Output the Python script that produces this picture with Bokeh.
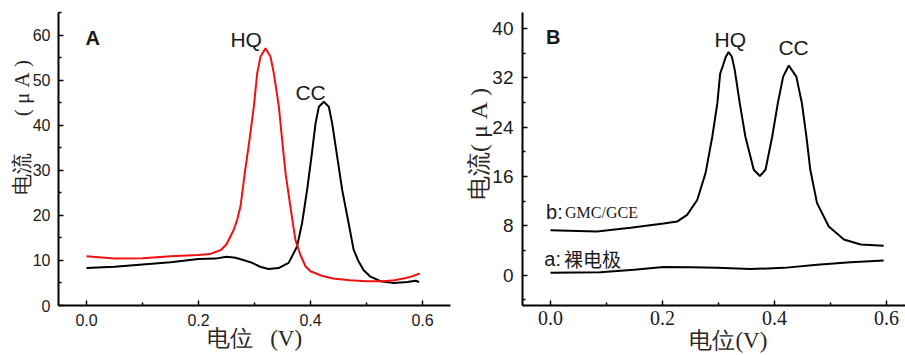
from bokeh.plotting import figure
from bokeh.layouts import row
from bokeh.models import Label, Range1d, FixedTicker, NumeralTickFormatter
from bokeh.embed import file_html
from bokeh.resources import INLINE

# ---------------- data ----------------
# Panel A: black curve (CC)
a_cc_x = [0.0, 0.05, 0.10, 0.15, 0.20, 0.23, 0.25, 0.266, 0.28, 0.296, 0.31, 0.325, 0.343,
          0.361, 0.376, 0.385, 0.394, 0.4018, 0.409, 0.4149, 0.4238, 0.4327, 0.4387, 0.4476,
          0.4565, 0.468, 0.477, 0.485, 0.495, 0.507, 0.525, 0.549, 0.573, 0.5875, 0.594]
a_cc_y = [8.3, 8.6, 9.1, 9.6, 10.3, 10.4, 10.8, 10.6, 10.1, 9.45, 8.6, 8.1, 8.3,
          9.45, 13.1, 18.3, 25.7, 33.1, 40.4, 44.1, 45.2, 44.1, 40.4, 33.1,
          25.7, 18.3, 12.4, 10.0, 7.8, 6.4, 5.4, 5.0, 5.2, 5.5, 5.2]
# Panel A: red curve (HQ)
a_hq_x = [0.0, 0.05, 0.10, 0.15, 0.20, 0.22, 0.24, 0.25, 0.263, 0.269, 0.275, 0.2827, 0.291,
          0.2988, 0.3048, 0.3107, 0.3196, 0.3286, 0.3345, 0.3435, 0.3494, 0.3554, 0.364,
          0.373, 0.382, 0.391, 0.40, 0.42, 0.44, 0.47, 0.50, 0.53, 0.55, 0.57, 0.58, 0.595]
a_hq_y = [10.9, 10.4, 10.5, 10.9, 11.2, 11.4, 12.3, 13.6, 16.8, 19.0, 22.0, 29.4, 36.7,
          44.1, 51.5, 55.2, 57.05, 55.2, 51.5, 44.1, 36.7, 29.4, 22.0,
          14.6, 11.2, 8.7, 7.6, 6.6, 6.0, 5.6, 5.4, 5.4, 5.6, 6.1, 6.4, 7.1]
# Panel B: curve b (GMC/GCE)
b_gmc_x = [0.0, 0.083, 0.143, 0.202, 0.226, 0.244, 0.262, 0.277, 0.289, 0.298, 0.303, 0.308,
           0.313, 0.318, 0.324, 0.329, 0.338, 0.348, 0.363, 0.374, 0.384, 0.396, 0.406,
           0.4155, 0.4256, 0.439, 0.449, 0.457, 0.464, 0.476, 0.497, 0.524, 0.554, 0.595]
b_gmc_y = [7.3, 7.1, 7.7, 8.4, 8.7, 9.8, 12.2, 16.6, 22.5, 27.9, 32.7, 34.0,
           35.4, 36.2, 35.4, 33.3, 27.9, 22.5, 17.1, 16.1, 17.1, 22.5, 27.9,
           32.2, 34.0, 32.2, 27.9, 22.5, 17.1, 11.7, 7.9, 5.8, 5.0, 4.8]
# Panel B: curve a (bare electrode)
b_bare_x = [0.0, 0.089, 0.149, 0.202, 0.25, 0.298, 0.357, 0.417, 0.476, 0.536, 0.595]
b_bare_y = [0.4, 0.5, 0.9, 1.35, 1.3, 1.2, 1.0, 1.2, 1.7, 2.1, 2.4]

x_major = [0.0, 0.2, 0.4, 0.6]
x_minor = [0.1, 0.3, 0.5]
a_y_major = [0, 10, 20, 30, 40, 50, 60]
a_y_minor = [5, 15, 25, 35, 45, 55, 65]
b_y_major = [0, 8, 16, 24, 32, 40]
b_y_minor = [-4, 4, 12, 20, 28, 36]

NB = "\u00a0"
IS = "\u3000"
a_x_label = "电位" + NB * 3 + "(V)"
a_y_label = IS * 3 + "电流" + IS + NB * 3 + "(" + NB + "μ" + NB + "A" + NB + ")"
b_x_label = IS + NB + "电位(V)"
b_y_label = IS + NB + "电流(" + NB + "μ" + NB + "A" + NB + ")"

TXT = "#1a1a1a"
SANS = "Liberation Sans"
SERIF = "Liberation Serif"
CJK = "Noto Sans CJK SC"


def style(p, xmaj, xmin, ymaj, ymin):
    p.outline_line_color = None
    p.xgrid.visible = False
    p.ygrid.visible = False
    p.xaxis.ticker = FixedTicker(ticks=xmaj, minor_ticks=xmin)
    p.yaxis.ticker = FixedTicker(ticks=ymaj, minor_ticks=ymin)
    p.xaxis.formatter = NumeralTickFormatter(format="0.0")
    for ax in (p.xaxis, p.yaxis):
        ax.axis_line_width = 2
        ax.axis_line_color = "black"
        ax.major_tick_in = 5
        ax.major_tick_out = 0
        ax.minor_tick_in = 3
        ax.minor_tick_out = 0
        ax.major_tick_line_width = 1.5
        ax.minor_tick_line_width = 1.5
        ax.major_tick_line_color = "black"
        ax.minor_tick_line_color = "black"
        ax.major_label_text_color = TXT
        ax.axis_label_text_font = SERIF
        ax.axis_label_text_font_style = "normal"
        ax.axis_label_text_color = "#2a2520"


def lab(p, x, y, text, size, font=SANS, bold=False):
    p.add_layout(Label(x=x, y=y, text=text, text_font=font, text_font_size=f"{size}px",
                       text_font_style="bold" if bold else "normal", text_align="left",
                       text_baseline="middle", text_color=TXT))


# ---------------- panel A ----------------
pA = figure(width=458, height=355, x_range=Range1d(-0.05, 0.65), y_range=Range1d(0, 65),
            output_backend="svg", toolbar_location=None,
            min_border_left=58, min_border_right=8, min_border_top=12, min_border_bottom=49)
style(pA, x_major, x_minor, a_y_major, a_y_minor)
pA.xaxis.major_label_text_font = SANS
pA.xaxis.major_label_text_font_size = "16px"
pA.xaxis.major_label_standoff = 8
pA.yaxis.major_label_text_font = SANS
pA.yaxis.major_label_text_font_size = "16px"
pA.yaxis.major_label_standoff = 8
pA.xaxis.axis_label = a_x_label
pA.xaxis.axis_label_text_font_size = "23px"
pA.xaxis.axis_label_standoff = -3
pA.yaxis.axis_label = a_y_label
pA.yaxis.axis_label_text_font_size = "21px"
pA.yaxis.axis_label_standoff = -4

pA.line(a_cc_x, a_cc_y, line_color="black", line_width=2)
pA.line(a_hq_x, a_hq_y, line_color="#f01010", line_width=2)

lab(pA, -0.002, 59.4, "A", 20, bold=True)
lab(pA, 0.257, 58.9, "HQ", 21)
lab(pA, 0.373, 47.2, "CC", 21)

# ---------------- panel B ----------------
pB = figure(width=447, height=355, x_range=Range1d(-0.05, 0.634), y_range=Range1d(-4.9, 42.6),
            output_backend="svg", toolbar_location=None,
            min_border_left=64, min_border_right=0, min_border_top=12, min_border_bottom=49)
style(pB, x_major, x_minor, b_y_major, b_y_minor)
pB.xaxis.major_label_text_font = SERIF
pB.xaxis.major_label_text_font_size = "20px"
pB.xaxis.major_label_standoff = 5
pB.yaxis.major_label_text_font = SANS
pB.yaxis.major_label_text_font_size = "19px"
pB.yaxis.major_label_standoff = 9
pB.xaxis.axis_label = b_x_label
pB.xaxis.axis_label_text_font_size = "23px"
pB.xaxis.axis_label_standoff = 0
pB.yaxis.axis_label = b_y_label
pB.yaxis.axis_label_text_font_size = "24px"
pB.yaxis.axis_label_standoff = -3

pB.line(b_gmc_x, b_gmc_y, line_color="black", line_width=2)
pB.line(b_bare_x, b_bare_y, line_color="black", line_width=2)

lab(pB, -0.008, 38.7, "B", 20, bold=True)
lab(pB, 0.293, 38.2, "HQ", 21)
lab(pB, 0.407, 37.0, "CC", 21)
lab(pB, -0.008, 10.2, "b:", 20)
lab(pB, 0.026, 10.2, "GMC/GCE", 16, font=SERIF)
lab(pB, -0.011, 2.7, "a:", 20)
lab(pB, 0.024, 2.7, "裸电极", 19, font=CJK)

layout = row(pA, pB)
open("out.html", "w").write(file_html(layout, INLINE))
